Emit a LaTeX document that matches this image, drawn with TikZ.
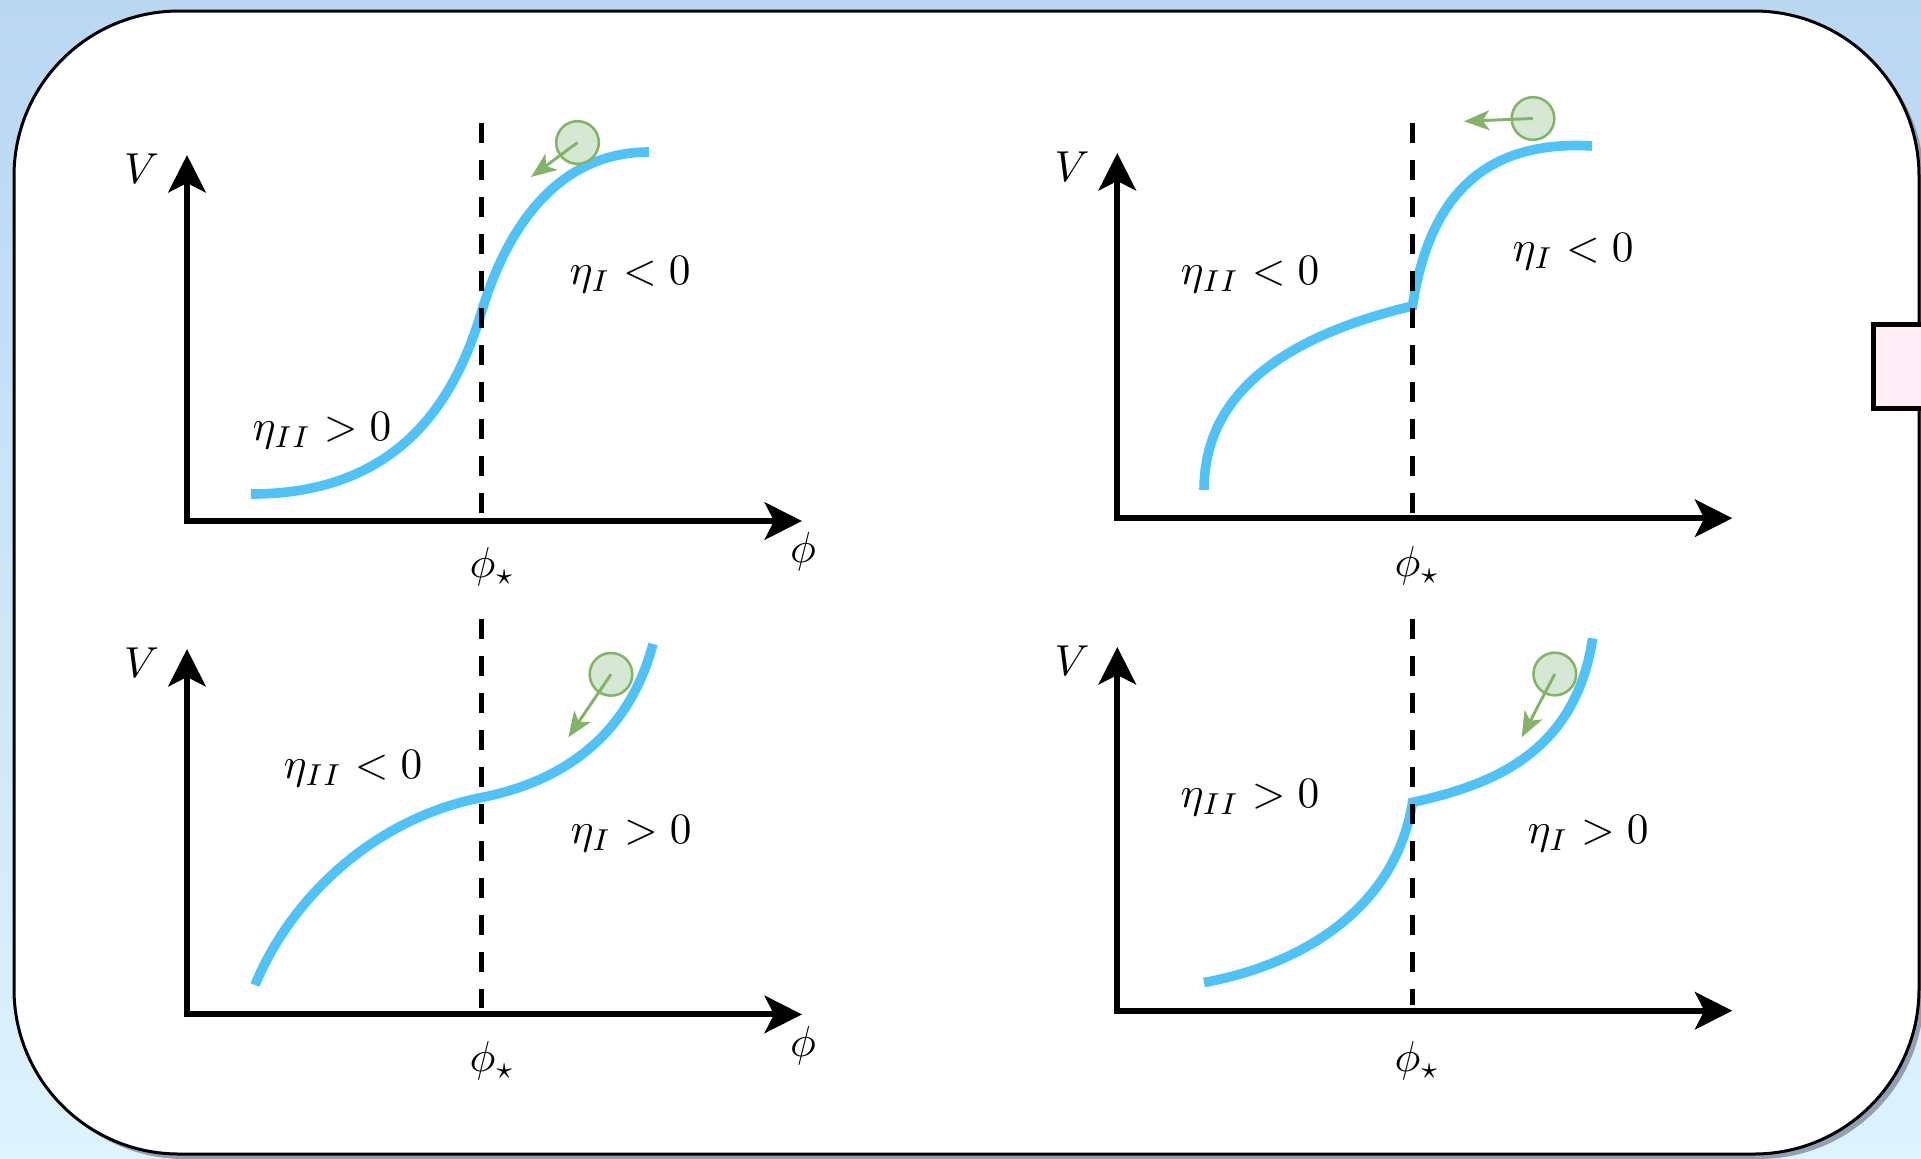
\documentclass[tikz,border=0pt]{standalone}
\definecolor{bgtop}{RGB}{186,215,242}
\definecolor{bgmid}{RGB}{200,228,248}
\definecolor{bgbot}{RGB}{221,243,253}
\definecolor{shadowgray}{RGB}{128,138,162}
\definecolor{pinkfill}{RGB}{255,238,245}
\usetikzlibrary{arrows.meta}

\begin{document}
\begin{tikzpicture}[x=0.75pt,y=0.75pt,yscale=-1,xscale=1,
	axisline/.style={draw={rgb, 255:red, 0; green, 0; blue, 0 }, line width=4.5pt, arrows={Stealth[length=28pt,width=28pt,inset=7pt]-Stealth[length=28pt,width=28pt,inset=7pt]}},
	potcurve/.style={draw={rgb, 255:red, 79; green, 195; blue, 247 }, line width=7.2pt},
	starline/.style={draw={rgb, 255:red, 0; green, 0; blue, 0 }, line width=4pt, dash pattern={on 15pt off 12.75pt}},
	ball/.style={circle, minimum size=32pt, inner sep=0pt, draw={rgb, 255:red, 130; green, 179; blue, 102 }, fill={rgb, 255:red, 213; green, 232; blue, 212 }, line width=1.9pt},
	push/.style={draw={rgb, 255:red, 130; green, 179; blue, 102 }, line width=2.2pt, -{Stealth[length=19pt,width=15pt,inset=5pt]}},
	lbl/.style={scale=3.25, inner sep=0pt}]
	\useasboundingbox (0,0) rectangle (1921,1158);
	
	%Shape: Background
	\shade [top color=bgtop, middle color=bgmid, bottom color=bgbot] (0,0) rectangle (1921,1158);
	%Shape: Rectangle [shadow]
	\fill [shadowgray, opacity=0.8, rounded corners=123.75pt] (19,16) rectangle (1924,1159);
	%Shape: Rectangle
	\draw [line width=2.25pt, fill=white, rounded corners=123.75pt] (14,11) rectangle (1919,1154);
	%Shape: Square
	\draw [line width=3.75pt, fill=pinkfill] (1873.5,324) rectangle (1960,408.5);
	
	%Shape: Axis 2D [top left]
	\draw [axisline] (187,155) -- (187,521) -- (802,521);
	%Shape: Axis 2D [top right]
	\draw [axisline] (1117.3,153) -- (1117.3,518.2) -- (1732.3,518.2);
	%Shape: Axis 2D [bottom left]
	\draw [axisline] (187,649) -- (187,1014.4) -- (802,1014.4);
	%Shape: Axis 2D [bottom right]
	\draw [axisline] (1117.3,647) -- (1117.3,1010.7) -- (1732.3,1010.7);
	
	%Curve Lines
	\draw [potcurve] (251,494) .. controls (400,494) and (455,400) .. (481.5,312) .. controls (508,224) and (560,152) .. (649,152);
	%Curve Lines
	\draw [potcurve] (1204,490) .. controls (1204,390) and (1290,335) .. (1412.5,306) .. controls (1430,190) and (1490,140) .. (1592,146);
	%Curve Lines
	\draw [potcurve] (255,985) .. controls (290,900) and (371.5,819.3) .. (481.5,797.5) .. controls (570,780) and (630,730) .. (653,644);
	%Curve Lines
	\draw [potcurve] (1204,982.5) .. controls (1300,965) and (1395,910) .. (1412.5,802.4) .. controls (1490,785) and (1575,755) .. (1592.6,638.3);
	
	%Straight Lines
	\draw [starline] (481.5,122.5) -- (481.5,517);
	%Straight Lines
	\draw [starline] (1412.5,122.5) -- (1412.5,514);
	%Straight Lines
	\draw [starline] (481.5,618.7) -- (481.5,1008);
	%Straight Lines
	\draw [starline] (1412.5,618.7) -- (1412.5,1005);
	
	%Shape: Circle
	\draw (577.5,142.5) node (ballA) [ball] {};
	\coordinate (tipA) at (531,177);
	\draw [push] (ballA.center) -- (tipA);
	%Shape: Circle
	\draw (1533,118.5) node (ballB) [ball] {};
	\coordinate (tipB) at (1464,121.3);
	\draw [push] (ballB.center) -- (tipB);
	%Shape: Circle
	\draw (611,674.3) node (ballC) [ball] {};
	\coordinate (tipC) at (568.3,737.3);
	\draw [push] (ballC.center) -- (tipC);
	%Shape: Circle
	\draw (1554.8,674) node (ballD) [ball] {};
	\coordinate (tipD) at (1521.7,737.3);
	\draw [push] (ballD.center) -- (tipD);
	
	% Text Node
	\draw (141.5,169) node (vA) [lbl] {$V$};
	% Text Node
	\draw (1072,166.5) node (vB) [lbl] {$V$};
	% Text Node
	\draw (141.5,662.7) node (vC) [lbl] {$V$};
	% Text Node
	\draw (1072,660.3) node (vD) [lbl] {$V$};
	% Text Node
	\draw (803,552) node (phiA) [lbl] {$\phi$};
	% Text Node
	\draw (803,1045.7) node (phiC) [lbl] {$\phi$};
	% Text Node
	\draw (492.5,567) node (starA) [lbl] {$\phi_\star$};
	% Text Node
	\draw (1417.5,565.8) node (starB) [lbl] {$\phi_\star$};
	% Text Node
	\draw (492.5,1060.7) node (starC) [lbl] {$\phi_\star$};
	% Text Node
	\draw (1417.5,1060.7) node (starD) [lbl] {$\phi_\star$};
	% Text Node
	\draw (630,275) node (etaA1) [lbl] {$\eta_I<0$};
	% Text Node
	\draw (322,431) node (etaA2) [lbl] {$\eta_{II}>0$};
	% Text Node
	\draw (1573,252) node (etaB1) [lbl] {$\eta_I<0$};
	% Text Node
	\draw (1250,275) node (etaB2) [lbl] {$\eta_{II}<0$};
	% Text Node
	\draw (631,834) node (etaC1) [lbl] {$\eta_I>0$};
	% Text Node
	\draw (353,769) node (etaC2) [lbl] {$\eta_{II}<0$};
	% Text Node
	\draw (1588,834) node (etaD1) [lbl] {$\eta_I>0$};
	% Text Node
	\draw (1250,798) node (etaD2) [lbl] {$\eta_{II}>0$};
	
\end{tikzpicture}
\end{document}
